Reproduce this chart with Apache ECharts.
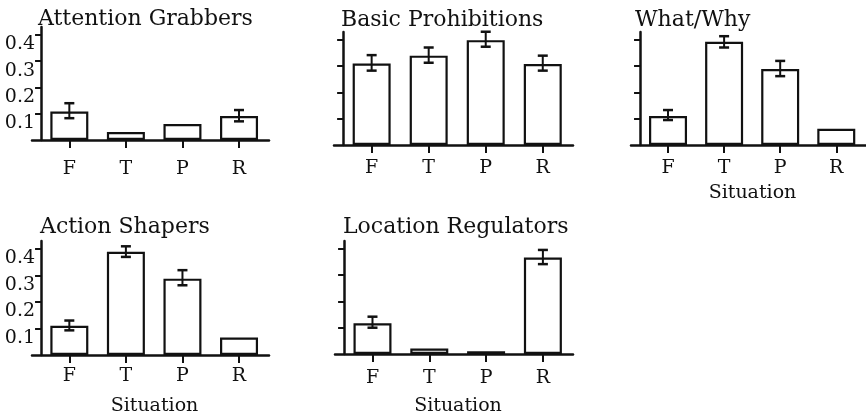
<!DOCTYPE html>
<html>
<head>
<meta charset="utf-8">
<script src="https://cdn.jsdelivr.net/npm/echarts@6/dist/echarts.min.js"></script>
<style>html,body{margin:0;padding:0;background:#fff}#c{width:866px;height:417px}</style>
</head>
<body>
<div id="c"></div>
<script>
// ---- data ----
const categories = ['F', 'T', 'P', 'R'];
const yTicks = [0.1, 0.2, 0.3, 0.4];
const axisName = 'Situation';

const attentionTitle = 'Attention Grabbers';
const attention   = [0.108, 0.030, 0.061, 0.091];
const attentionLo = [0.083, null, null, 0.071];
const attentionHi = [0.140, null, null, 0.114];

const basicTitle = 'Basic Prohibitions';
const basic   = [0.310, 0.340, 0.399, 0.308];
const basicLo = [0.283, 0.313, 0.374, 0.283];
const basicHi = [0.342, 0.371, 0.431, 0.340];

const whatTitle = 'What/Why';
const whatWhy   = [0.110, 0.393, 0.289, 0.062];
const whatWhyLo = [0.095, 0.371, 0.262, null];
const whatWhyHi = [0.133, 0.414, 0.320, null];

const actionTitle = 'Action Shapers';
const action   = [0.110, 0.389, 0.288, 0.066];
const actionLo = [0.093, 0.370, 0.263, null];
const actionHi = [0.130, 0.410, 0.320, null];

const locationTitle = 'Location Regulators';
const locationReg   = [0.117, 0.021, 0.010, 0.367];
const locationRegLo = [0.100, null, null, 0.342];
const locationRegHi = [0.142, null, null, 0.396];

// ---- layout / style ----
const FONT = 'DejaVu Serif';
const INK = '#111';
const X_MIN = -0.66, X_MAX = 3.53;   // x axis line extends a little left of the y axis
const catIdx = categories.map((_, i) => i);
const panels = [
  {title: attentionTitle, v: attention, lo: attentionLo, hi: attentionHi, grid: {left: 32, top: 27, width: 237, height: 113}, labels: true, name: false, lblMargin: 20, titlePos: {left: 38, top: 8}},
  {title: basicTitle, v: basic, lo: basicLo, hi: basicHi, grid: {left: 334, top: 32, width: 239, height: 113}, labels: false, name: false, lblMargin: 14, titlePos: {left: 341, top: 9}},
  {title: whatTitle, v: whatWhy, lo: whatWhyLo, hi: whatWhyHi, grid: {left: 631, top: 32, width: 237, height: 113}, labels: false, name: true, lblMargin: 14, nameGap: 39, titlePos: {left: 635, top: 9}},
  {title: actionTitle, v: action, lo: actionLo, hi: actionHi, grid: {left: 32, top: 241, width: 237, height: 114}, labels: true, name: true, lblMargin: 12, nameGap: 42, titlePos: {left: 40, top: 216}},
  {title: locationTitle, v: locationReg, lo: locationRegLo, hi: locationRegHi, grid: {left: 335, top: 241, width: 238, height: 114}, labels: false, name: true, lblMargin: 15, nameGap: 43, titlePos: {left: 343, top: 216}}
];

const option = {
  backgroundColor: '#fff',
  animation: false,
  title: [], grid: [], xAxis: [], yAxis: [], series: []
};

panels.forEach((p, k) => {
  const pxPerCat = p.grid.width / (X_MAX - X_MIN);
  option.title.push({
    text: p.title, left: p.titlePos.left, top: p.titlePos.top, padding: 0,
    textStyle: {fontFamily: FONT, fontSize: 22, fontWeight: 'normal', color: INK}
  });
  option.grid.push(Object.assign({containLabel: false}, p.grid));
  option.xAxis.push({
    type: 'value', gridIndex: k, min: X_MIN, max: X_MAX,
    splitLine: {show: false},
    axisLine: {show: true, lineStyle: {color: INK, width: 2.5}},
    axisTick: {show: true, customValues: catIdx, length: 8, lineStyle: {color: INK, width: 2}},
    axisLabel: {customValues: catIdx, fontFamily: FONT, fontSize: 19, color: INK, margin: p.lblMargin,
      formatter: v => categories[Math.round(v)]},
    name: p.name ? axisName : '', nameLocation: 'middle', nameGap: p.nameGap || 30,
    nameTextStyle: {fontFamily: FONT, fontSize: 19, color: INK, padding: [0, 0, 0, 8]}
  });
  option.yAxis.push({
    type: 'value', gridIndex: k, min: 0, max: 0.43,
    offset: -(-0.5 - X_MIN) * pxPerCat,
    splitLine: {show: false},
    axisLine: {show: true, onZero: false, lineStyle: {color: INK, width: 2.5}},
    axisTick: {show: true, length: 6, lineStyle: {color: INK, width: 2}, customValues: yTicks},
    axisLabel: {show: p.labels, customValues: yTicks, fontFamily: FONT, fontSize: 19, color: INK,
      margin: 6, verticalAlign: 'top', formatter: v => v.toFixed(1)}
  });
  option.series.push({
    type: 'bar', xAxisIndex: k, yAxisIndex: k, data: p.v.map((v, i) => [i, v]), barWidth: 38,
    itemStyle: {color: '#fff', borderColor: INK, borderWidth: 2.2}
  });
  const eb = [];
  p.v.forEach((_, i) => { if (p.lo[i] != null) eb.push([i, p.lo[i], p.hi[i]]); });
  option.series.push({
    type: 'custom', xAxisIndex: k, yAxisIndex: k, data: eb, z: 5,
    encode: {x: 0, y: [1, 2]},
    renderItem: (params, api) => {
      const i = api.value(0);
      const a = api.coord([i, api.value(2)]);
      const b = api.coord([i, api.value(1)]);
      const w = 5;
      const st = {stroke: INK, lineWidth: 2, fill: null};
      const cap = {stroke: INK, lineWidth: 2.5, fill: null};
      return {type: 'group', children: [
        {type: 'line', shape: {x1: a[0], y1: a[1], x2: b[0], y2: b[1]}, style: st},
        {type: 'line', shape: {x1: a[0] - w, y1: a[1], x2: a[0] + w, y2: a[1]}, style: cap},
        {type: 'line', shape: {x1: b[0] - w, y1: b[1], x2: b[0] + w, y2: b[1]}, style: cap}
      ]};
    }
  });
});

const chart = echarts.init(document.getElementById('c'), null, {renderer: 'canvas'});
chart.setOption(option);
</script>
</body>
</html>
